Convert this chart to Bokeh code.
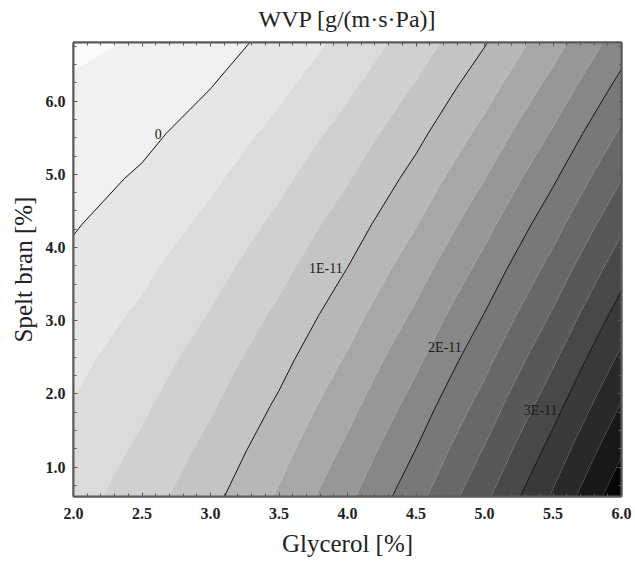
import numpy as np
from bokeh.plotting import figure
from bokeh.models import (LinearAxis, SingleIntervalTicker, Range1d,
                          PrintfTickFormatter)
from bokeh.core.properties import value
from bokeh.embed import file_html
from bokeh.resources import INLINE

# ---- data (WVP in units of 1E-12 g/(m·s·Pa)) ----
glycerol = [2.0, 2.5, 3.0, 3.5, 4.0, 4.5, 5.0, 5.5, 6.0]
spelt_bran = [0.6, 1.22, 1.84, 2.46, 3.08, 3.70, 4.32, 4.94, 5.56, 6.18, 6.8]
wvp_row_00 = [4.00, 6.35, 9.28, 12.81, 16.92, 21.63, 26.92, 32.81, 39.28]
wvp_row_01 = [3.31, 5.48, 8.25, 11.60, 15.55, 20.08, 25.21, 30.93, 37.23]
wvp_row_02 = [2.61, 4.62, 7.21, 10.40, 14.18, 18.54, 23.50, 29.05, 35.18]
wvp_row_03 = [1.92, 3.75, 6.18, 9.20, 12.81, 17.00, 21.79, 27.17, 33.13]
wvp_row_04 = [1.22, 2.89, 5.15, 8.00, 11.43, 15.46, 20.08, 25.29, 31.09]
wvp_row_05 = [0.53, 2.03, 4.12, 6.79, 10.06, 13.92, 18.37, 23.41, 29.04]
wvp_row_06 = [-0.17, 1.16, 3.08, 5.59, 8.69, 12.38, 16.66, 21.53, 26.99]
wvp_row_07 = [-0.86, 0.30, 2.05, 4.39, 7.32, 10.84, 14.95, 19.65, 24.94]
wvp_row_08 = [-1.56, -0.56, 1.02, 3.19, 5.95, 9.30, 13.24, 17.77, 22.89]
wvp_row_09 = [-2.25, -1.43, -0.02, 1.99, 4.58, 7.76, 11.53, 15.89, 20.84]
wvp_row_10 = [-2.94, -2.29, -1.05, 0.78, 3.21, 6.22, 9.82, 14.01, 18.80]
fill_levels = [-5, -2.5, 0, 2.5, 5, 7.5, 10, 12.5, 15, 17.5, 20, 22.5, 25,
               27.5, 30, 32.5, 35, 37.5, 40]
line_levels = [0, 10, 20, 30]
line_labels = ["0", "1E-11", "2E-11", "3E-11"]
label_y = [5.55, 3.71, 2.64, 1.78]
x_title = "Glycerol [%]"
y_title = "Spelt bran [%]"
chart_title = "WVP [g/(m\u00b7s\u00b7Pa)]"

grays = [252, 241, 230, 219, 208, 196, 183, 167, 151, 135, 120, 104, 88,
         72, 57, 41, 24, 6]
band_colors = ["#%02x%02x%02x" % (g, g, g) for g in grays]

X = np.array(glycerol)
Y = np.array(spelt_bran)
Z = np.array([wvp_row_00, wvp_row_01, wvp_row_02, wvp_row_03, wvp_row_04,
              wvp_row_05, wvp_row_06, wvp_row_07, wvp_row_08, wvp_row_09,
              wvp_row_10])
x0, x1 = X[0], X[-1]
y0, y1 = Y[0], Y[-1]

p = figure(width=635, height=567, x_range=Range1d(x0, x1),
           y_range=Range1d(y0, y1), output_backend="svg",
           toolbar_location=None, x_axis_location=None, y_axis_location=None,
           min_border_left=73, min_border_right=14, min_border_top=42,
           min_border_bottom=71, background_fill_color="white",
           border_fill_color="white")
p.grid.visible = False
p.title.visible = False
p.outline_line_color = "#5a5a5a"
p.outline_line_width = 2

p.contour(X, Y, Z, levels=fill_levels, fill_color=band_colors, line_color=None)
p.contour(X, Y, Z, levels=line_levels, fill_color=None, line_color="#111111",
          line_width=1)

# label positions: where each labeled contour crosses the chosen y value
lx = []
for L, yy in zip(line_levels, label_y):
    j = int(np.searchsorted(Y, yy) - 1)
    j = max(0, min(j, len(Y) - 2))
    t = (yy - Y[j]) / (Y[j + 1] - Y[j])
    row = Z[j] + t * (Z[j + 1] - Z[j])
    lx.append(float(np.interp(L, row, X)))
p.text(x=lx, y=label_y, text=line_labels, text_align="right",
       text_baseline="middle", x_offset=-4,
       text_font=value("Liberation Serif"), text_font_size="14px",
       text_color="#1a1a1a")

serif = "Liberation Serif"

def style_axis(ax, labels=True):
    ax.axis_line_color = "#5a5a5a"
    ax.axis_line_width = 2
    ax.major_tick_line_color = "#5a5a5a"
    ax.minor_tick_line_color = "#5a5a5a"
    ax.major_tick_in = 4
    ax.major_tick_out = 0
    ax.minor_tick_in = 3
    ax.minor_tick_out = 0
    ax.formatter = PrintfTickFormatter(format="%.1f")
    ax.major_label_text_font = serif
    ax.major_label_text_font_style = "bold"
    ax.major_label_text_font_size = "16px" if labels else "1px"
    ax.major_label_text_color = "#222222" if labels else None
    ax.axis_label_text_font = serif
    ax.axis_label_text_font_style = "normal"
    ax.axis_label_text_font_size = "25px"
    ax.axis_label_text_color = "#222222"

xb = LinearAxis(ticker=SingleIntervalTicker(interval=0.5, num_minor_ticks=5),
                axis_label=x_title)
style_axis(xb)
xb.major_label_standoff = 11
xb.axis_label_standoff = 8
p.add_layout(xb, "below")

yl = LinearAxis(ticker=SingleIntervalTicker(interval=1.0, num_minor_ticks=4),
                axis_label=y_title)
style_axis(yl)
yl.major_label_standoff = 8
yl.axis_label_standoff = 6
p.add_layout(yl, "left")

# top axis: inward ticks only, carries the chart title as its label
xt = LinearAxis(ticker=SingleIntervalTicker(interval=0.5, num_minor_ticks=5),
                axis_label=chart_title)
style_axis(xt, labels=False)
xt.major_label_standoff = 0
xt.axis_label_standoff = 11
xt.axis_label_text_font_size = "24px"
p.add_layout(xt, "above")

yr = LinearAxis(ticker=SingleIntervalTicker(interval=1.0, num_minor_ticks=4))
style_axis(yr, labels=False)
yr.major_label_standoff = 0
p.add_layout(yr, "right")

open("out.html", "w").write(file_html(p, INLINE))
